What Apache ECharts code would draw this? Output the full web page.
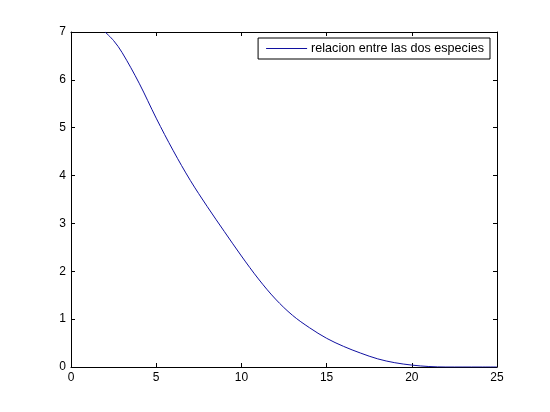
<!DOCTYPE html>
<html>
<head>
<meta charset="utf-8">
<script src="https://cdn.jsdelivr.net/npm/echarts@6/dist/echarts.min.js"></script>
<style>
html,body{margin:0;padding:0;background:#fff;}
#chart{width:550px;height:412px;}
</style>
</head>
<body>
<div id="chart"></div>
<script>
var seriesName = 'relacion entre las dos especies';
var xValues = [2, 2.5, 3, 4, 5, 6, 7, 8, 9, 10, 11, 12, 13, 14, 15, 16, 17, 18, 19, 20, 21, 22, 23, 24, 25];
var yValues = [7.0, 6.82, 6.57, 5.93, 5.20, 4.52, 3.90, 3.35, 2.83, 2.32, 1.84, 1.42, 1.08, 0.82, 0.60, 0.43, 0.29, 0.17, 0.09, 0.04, 0.01, 0, 0, 0, 0];
var xTicks = [0, 5, 10, 15, 20, 25];
var yTicks = [0, 1, 2, 3, 4, 5, 6, 7];

var pts = xValues.map(function (x, i) { return [x, yValues[i]]; });
var font = 'Liberation Sans, Arial, sans-serif';
var lineCol = '#000';

function xAxisCfg(pos, showLabel) {
  return {
    type: 'value', position: pos, min: xTicks[0], max: xTicks[xTicks.length - 1], interval: 5,
    axisLine: { show: true, onZero: false, lineStyle: { color: lineCol, width: 1 } },
    axisTick: { show: true, inside: true, length: 4, lineStyle: { color: lineCol } },
    axisLabel: { show: showLabel, color: '#000', fontFamily: font, fontSize: 12, margin: 5 },
    splitLine: { show: false }
  };
}
function yAxisCfg(pos, showLabel) {
  return {
    type: 'value', position: pos, min: yTicks[0], max: yTicks[yTicks.length - 1], interval: 1,
    axisLine: { show: true, onZero: false, lineStyle: { color: lineCol, width: 1 } },
    axisTick: { show: true, inside: true, length: 4, lineStyle: { color: lineCol } },
    axisLabel: { show: showLabel, color: '#000', fontFamily: font, fontSize: 12, margin: 5 },
    splitLine: { show: false }
  };
}

var chart = echarts.init(document.getElementById('chart'), null, { renderer: 'canvas' });
chart.setOption({
  backgroundColor: '#fff',
  animation: false,
  grid: { left: 71, right: 53, top: 32, bottom: 45, containLabel: false },
  legend: {
    show: true,
    right: 60, top: 38,
    padding: [4, 6, 4, 8],
    backgroundColor: '#fff',
    borderColor: '#000', borderWidth: 1, borderRadius: 0,
    itemWidth: 41, itemHeight: 14, itemGap: 4,
    textStyle: { color: '#000', fontFamily: font, fontSize: 12.6, padding: [0, 0, 0, -1] },
    data: [{ name: seriesName, icon: 'path://M0,0 L40,0 L40,1 L0,1 Z' }]
  },
  xAxis: [xAxisCfg('bottom', true), xAxisCfg('top', false)],
  yAxis: [yAxisCfg('left', true), yAxisCfg('right', false)],
  series: [{
    name: seriesName,
    type: 'line',
    xAxisIndex: 0, yAxisIndex: 0,
    data: pts,
    smooth: 0.35,
    symbol: 'none',
    clip: true,
    lineStyle: { color: '#1010a0', width: 1 },
    itemStyle: { color: '#1010a0' }
  }]
});
</script>
</body>
</html>
